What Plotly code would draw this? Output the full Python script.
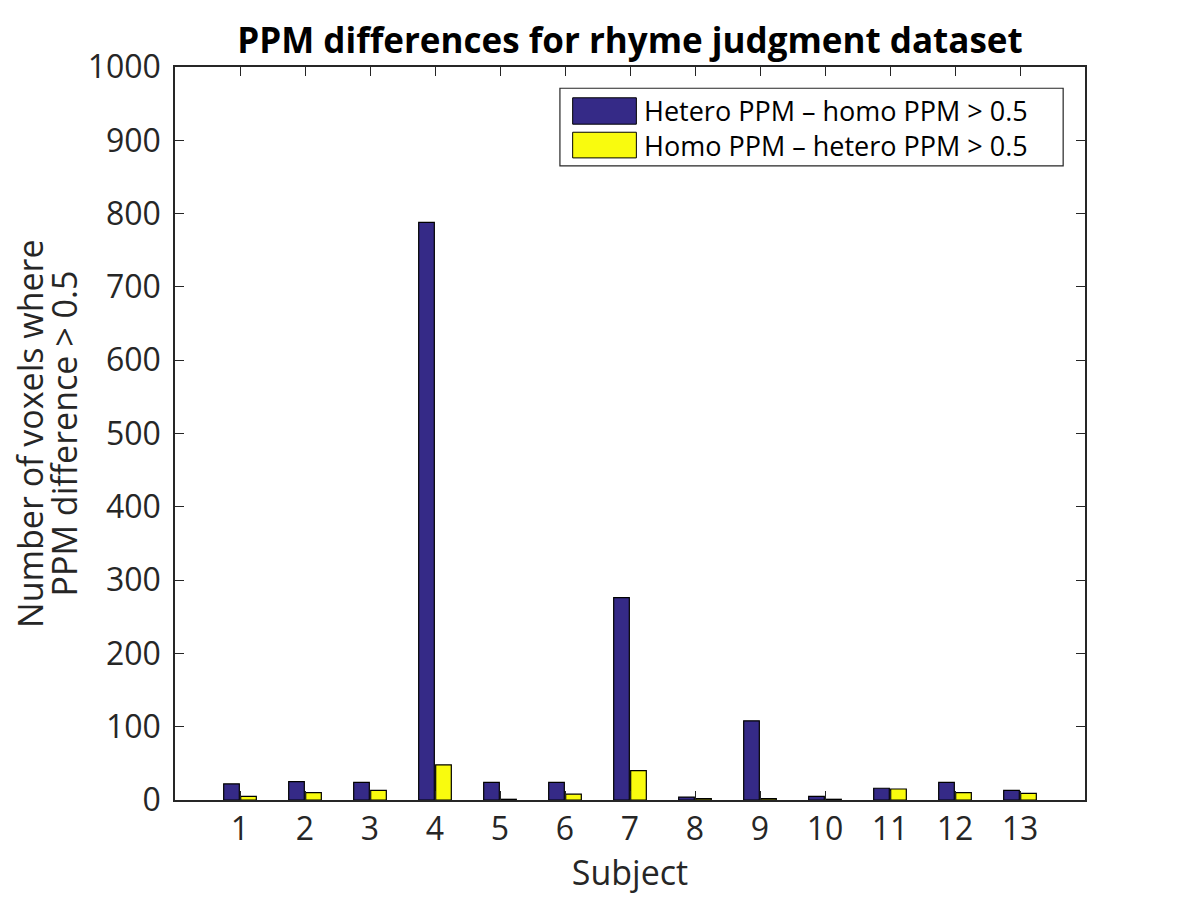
import plotly.graph_objects as go

subjects = [str(i) for i in range(1, 14)]
hetero_minus_homo = [22, 25, 24, 788, 24, 24, 276, 4, 108, 5, 16, 24, 13]
homo_minus_hetero = [5, 10, 13, 48, 1, 8, 40, 2, 2, 1, 15, 10, 9]
series_names = ["Hetero PPM \u2013 homo PPM > 0.5", "Homo PPM \u2013 hetero PPM > 0.5"]
series_colors = ["#352A87", "#F9FB0E"]
ylabel_lines = ["Number of voxels where", "PPM difference > 0.5"]

fnt = "Open Sans"
axis_col = "#262626"

fig = go.Figure()
for vals, name, col in zip([hetero_minus_homo, homo_minus_hetero], series_names, series_colors):
    fig.add_trace(go.Bar(x=list(range(1, 14)), y=vals, name=name, showlegend=False,
                         marker=dict(color=col, line=dict(color="black", width=1.2))))

# legend drawn by hand so the swatches are wide rectangles like MATLAB's
fig.add_shape(type="rect", xref="paper", yref="paper", x0=0.423, x1=0.976, y0=0.865, y1=0.971,
              line=dict(color=axis_col, width=1.2), fillcolor="white", layer="above")
sw_y = [(0.922, 0.958), (0.876, 0.911)]
txt_y = [0.941, 0.893]
for name, col, (y0, y1), ty in zip(series_names, series_colors, sw_y, txt_y):
    fig.add_shape(type="rect", xref="paper", yref="paper", x0=0.437, x1=0.507, y0=y0, y1=y1,
                  line=dict(color="black", width=1), fillcolor=col, layer="above")
    fig.add_annotation(text=name, xref="paper", yref="paper", x=0.513, y=ty,
                       xanchor="left", yanchor="middle", showarrow=False,
                       font=dict(size=27, color="black"))

# two-line y label, placed line by line to get MATLAB's tight line spacing
for line, lx in zip(ylabel_lines, [-0.160, -0.122]):
    fig.add_annotation(text=line, xref="paper", yref="paper", x=lx, y=0.5,
                       xanchor="center", yanchor="middle", textangle=-90, showarrow=False,
                       font=dict(size=34, color=axis_col))

fig.update_layout(
    width=1200, height=900,
    paper_bgcolor="white", plot_bgcolor="white",
    margin=dict(l=167, r=123, t=59, b=108),
    barmode="group", bargap=0.477, bargroupgap=0.08,
    font=dict(family=fnt, size=32, color=axis_col),
    title=dict(text="<b>PPM differences for rhyme judgment dataset</b>",
               x=0.5, xanchor="center", xref="paper", y=0.964, yanchor="middle",
               font=dict(size=35, color="black")),
)
fig.update_xaxes(range=[0, 14], tickvals=list(range(1, 14)), ticktext=subjects,
                 ticks="inside", ticklen=9, tickcolor=axis_col, ticklabelstandoff=0,
                 showline=True, linecolor=axis_col, linewidth=1.5, mirror="ticks",
                 showgrid=False, zeroline=False, automargin=False,
                 title=dict(text="Subject", font=dict(size=34), standoff=0))
fig.update_yaxes(range=[0, 1000], dtick=100,
                 ticks="inside", ticklen=9, tickcolor=axis_col, ticklabelstandoff=6,
                 showline=True, linecolor=axis_col, linewidth=1.5, mirror="ticks",
                 showgrid=False, zeroline=False, automargin=False)

fig.write_html("out.html")
